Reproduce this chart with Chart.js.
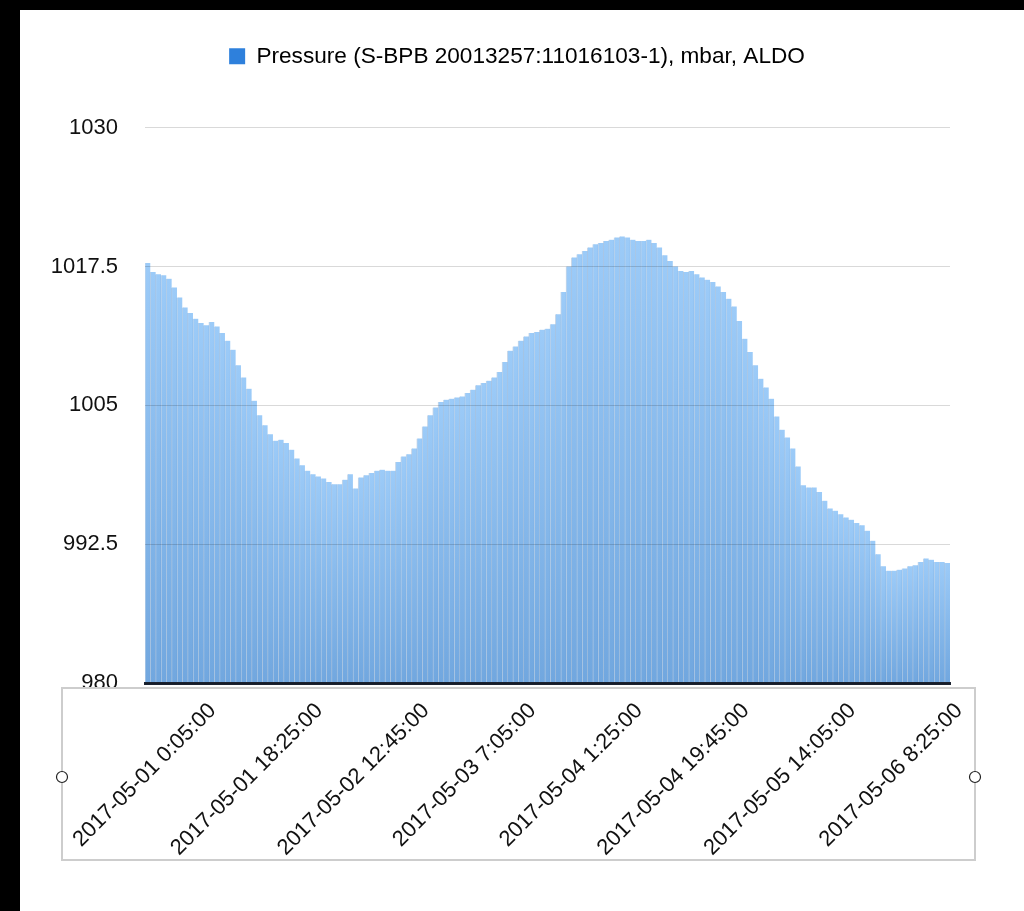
<!DOCTYPE html>
<html><head><meta charset="utf-8">
<script src="https://cdn.jsdelivr.net/npm/chart.js@4.4.1/dist/chart.umd.min.js"></script>
<style>
html,body{margin:0;padding:0;background:#000;width:1024px;height:911px;overflow:hidden}
#wrap{position:absolute;left:20px;top:10px;width:1004px;height:901px;background:#fff}
canvas{display:block}
</style></head><body>
<div id="wrap"><canvas id="c" width="1004" height="901"></canvas></div>
<script>
const seriesLabel = 'Pressure (S-BPB 20013257:11016103-1), mbar, ALDO';

// one bar per 55 minutes, starting 2017-05-01 0:05
const pressure = [
  1017.8, 1017.0, 1016.8, 1016.7, 1016.4, 1015.6, 1014.7, 1013.8, 1013.3, 1012.8,
  1012.4, 1012.2, 1012.5, 1012.1, 1011.5, 1010.8, 1010.0, 1008.6, 1007.5, 1006.5,
  1005.4, 1004.1, 1003.2, 1002.4, 1001.8, 1001.9, 1001.6, 1001.0, 1000.2, 999.6,
  999.1, 998.8, 998.6, 998.4, 998.1, 997.9, 997.9, 998.3, 998.8, 997.5,
  998.5, 998.7, 998.9, 999.1, 999.2, 999.1, 999.1, 999.9, 1000.4, 1000.6,
  1001.1, 1002.0, 1003.1, 1004.1, 1004.8, 1005.3, 1005.5, 1005.6, 1005.7, 1005.8,
  1006.1, 1006.4, 1006.8, 1007.0, 1007.2, 1007.5, 1008.0, 1008.9, 1009.9, 1010.3,
  1010.8, 1011.2, 1011.5, 1011.6, 1011.8, 1011.9, 1012.3, 1013.2, 1015.2, 1017.5,
  1018.3, 1018.6, 1018.9, 1019.2, 1019.5, 1019.6, 1019.8, 1019.9, 1020.1, 1020.2,
  1020.1, 1019.9, 1019.8, 1019.8, 1019.9, 1019.6, 1019.2, 1018.5, 1018.0, 1017.5,
  1017.1, 1017.0, 1017.1, 1016.8, 1016.5, 1016.3, 1016.1, 1015.7, 1015.2, 1014.6,
  1013.9, 1012.6, 1011.0, 1009.8, 1008.6, 1007.4, 1006.6, 1005.6, 1004.0, 1002.8,
  1002.1, 1001.1, 999.5, 997.8, 997.6, 997.6, 997.2, 996.4, 995.7, 995.5,
  995.2, 994.9, 994.7, 994.4, 994.2, 993.7, 992.8, 991.6, 990.5, 990.1,
  990.1, 990.2, 990.3, 990.5, 990.6, 990.9, 991.2, 991.1, 990.9, 990.9,
  990.8
];

const xTickLabels = [
  '2017-05-01 0:05:00', '2017-05-01 18:25:00', '2017-05-02 12:45:00', '2017-05-03 7:05:00',
  '2017-05-04 1:25:00', '2017-05-04 19:45:00', '2017-05-05 14:05:00', '2017-05-06 8:25:00'
];
const labelEvery = 20;
const yTickValues = [980, 992.5, 1005, 1017.5, 1030];

const startMs = Date.UTC(2017, 4, 1, 0, 5);
const stepMinutes = 55;
const pad2 = n => String(n).padStart(2, '0');
const categories = pressure.map((_, i) => {
  const d = new Date(startMs + i * stepMinutes * 60000);
  return d.getUTCFullYear() + '-' + pad2(d.getUTCMonth() + 1) + '-' + pad2(d.getUTCDate()) + ' ' +
    d.getUTCHours() + ':' + pad2(d.getUTCMinutes()) + ':00';
});

const FONT = '"Liberation Sans", Arial, Helvetica, sans-serif';

const frame = {
  id: 'frame',
  afterDatasetsDraw(chart) {
    const ca = chart.chartArea, ctx = chart.ctx;
    const l = ca.left - 83, r = ca.right + 25, t = ca.bottom + 5, b = ca.bottom + 177;
    ctx.save();
    ctx.fillStyle = '#fff';
    ctx.fillRect(l, t, r - l, b - t);
    ctx.strokeStyle = '#cdcdcd';
    ctx.lineWidth = 2;
    ctx.strokeRect(l, t, r - l, b - t);
    const my = t + 89;
    [l, r].forEach(cx => {
      ctx.beginPath();
      ctx.arc(cx, my, 5.5, 0, Math.PI * 2);
      ctx.fillStyle = '#fff';
      ctx.fill();
      ctx.lineWidth = 1.2;
      ctx.strokeStyle = '#222';
      ctx.stroke();
    });
    ctx.restore();
  }
};

function barFill(c) {
  const chart = c.chart;
  const ca = chart.chartArea;
  if (!ca || !c.parsed || c.type !== 'data') return '#8ec0f2';
  const yTop = chart.scales.y.getPixelForValue(c.parsed.y);
  const g = chart.ctx.createLinearGradient(0, yTop, 0, ca.bottom);
  g.addColorStop(0, '#9ccbf8');
  g.addColorStop(1, '#71a7df');
  return g;
}

new Chart(document.getElementById('c'), {
  type: 'bar',
  data: {
    labels: categories,
    datasets: [{
      label: seriesLabel,
      data: pressure,
      xAxisID: 'x',
      yAxisID: 'y',
      backgroundColor: barFill,
      borderColor: 'rgba(60,110,170,0.28)',
      borderWidth: {left: 1, right: 0, top: 0, bottom: 0},
      borderSkipped: false,
      inflateAmount: 0.5,
      barPercentage: 1,
      categoryPercentage: 1
    }]
  },
  options: {
    responsive: false,
    animation: false,
    devicePixelRatio: 1,
    layout: {autoPadding: false, padding: {top: 25, right: 10, bottom: 0, left: 0}},
    plugins: {
      tooltip: {enabled: false},
      legend: {
        position: 'top',
        align: 'center',
        labels: {
          boxWidth: 16, boxHeight: 16, padding: 10, color: '#111',
          font: {family: FONT, size: 22.6},
          generateLabels: () => [{text: seriesLabel, fillStyle: '#2e80dc', strokeStyle: '#2e80dc', lineWidth: 0, hidden: false, datasetIndex: 0}]
        }
      }
    },
    scales: {
      x: {
        type: 'category', position: 'bottom', offset: true,
        grid: {display: false},
        border: {display: true, color: '#1b2230', width: 3, z: 1},
        ticks: {
          autoSkip: false, minRotation: 45, maxRotation: 45, labelOffset: 65, padding: 7, z: 1,
          color: '#111', font: {family: FONT, size: 22},
          callback: (v, i) => (i % labelEvery === 0 ? xTickLabels[i / labelEvery] : '')
        },
        afterFit: s => { s.height = 228; s.paddingLeft = 0; s.paddingRight = 0; }
      },
      xT: {
        type: 'category', position: 'top', display: true,
        grid: {display: false}, border: {display: false}, ticks: {display: false},
        afterFit: s => { s.height = 50; }
      },
      y: {
        type: 'linear', position: 'left', min: 980, max: 1030,
        grid: {color: 'rgba(0,0,0,0.15)', lineWidth: 1, drawTicks: false, z: 1},
        border: {display: false},
        ticks: {padding: 27, color: '#111', font: {family: FONT, size: 22}, callback: v => String(v)},
        afterBuildTicks: s => { s.ticks = yTickValues.map(v => ({value: v})); },
        afterFit: s => { s.width = 125; }
      },
      yR: {
        type: 'linear', position: 'right', display: true,
        grid: {display: false}, border: {display: false}, ticks: {display: false},
        afterFit: s => { s.width = 64; }
      }
    }
  },
  plugins: [frame]
});
</script>
</body></html>
